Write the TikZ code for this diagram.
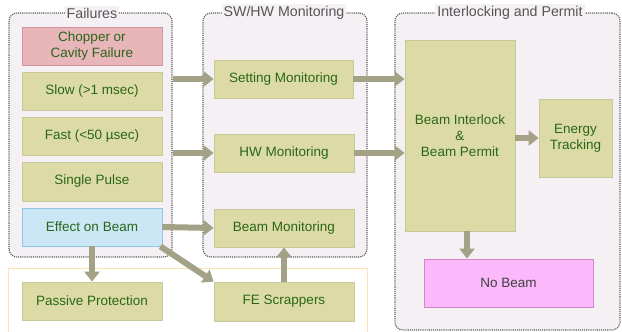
\documentclass[tikz,border=0pt]{standalone}
\usepackage{fontspec}
\setmainfont{Liberation Sans}
\usetikzlibrary{arrows.meta}
\definecolor{boxfill}{HTML}{DCDBA6}
\definecolor{boxline}{HTML}{C9C898}
\definecolor{txtgreen}{HTML}{2A661A}
\definecolor{chopfill}{HTML}{E8B5B9}
\definecolor{chopline}{HTML}{D4959A}
\definecolor{efffill}{HTML}{CBE7F6}
\definecolor{effline}{HTML}{8FC6E6}
\definecolor{nbfill}{HTML}{FBB9FB}
\definecolor{nbline}{HTML}{D088C8}
\definecolor{grpfill}{HTML}{F4F0F4}
\definecolor{grpline}{HTML}{5A5A5A}
\definecolor{arrcol}{HTML}{A3A286}
\definecolor{orangeln}{HTML}{FFE2AE}
\definecolor{titlecol}{HTML}{555555}
\tikzset{
  fbox/.style={draw=boxline, fill=boxfill, line width=0.8pt, inner sep=0pt,
    text=txtgreen, font=\fontsize{13.5}{16}\selectfont, align=center},
  grp/.style={draw=grpline, fill=grpfill, densely dotted, line width=1.1pt,
    rounded corners=8pt, inner sep=0pt},
  gtitle/.style={fill=grpfill, text=titlecol, inner sep=2pt,
    font=\fontsize{14.2}{16}\selectfont},
  arr/.style={draw=arrcol, line width=6pt,
    -{Triangle[length=10pt,width=15pt]}}
}
\begin{document}
\begin{tikzpicture}[x=1pt,y=-1pt]
\useasboundingbox (0,0) rectangle (622,332);
% orange outline
\draw[orangeln, line width=1pt] (8,334) -- (8,268) -- (367,268) -- (367,334);
% groups
\node[grp, minimum width=163pt, minimum height=244pt] (g1) at (90.5,135) {};
\node[grp, minimum width=164pt, minimum height=244pt] (g2) at (285,135) {};
\node[grp, minimum width=225pt, minimum height=317pt] (g3) at (507.5,171.5) {};
\node[gtitle] (t1) at (92,13) {Failures};
\node[gtitle] (t2) at (284,13) {SW/HW Monitoring};
\node[gtitle] (t3) at (510,13) {Interlocking and Permit};
% boxes
\node[fbox, fill=chopfill, draw=chopline, minimum width=140pt, minimum height=38pt] (chop) at (92,46) {Chopper or\\Cavity Failure};
\node[fbox, minimum width=140pt, minimum height=38pt] (slow) at (92,91) {Slow (>1 msec)};
\node[fbox, minimum width=140pt, minimum height=38pt] (fast) at (92,136) {Fast (<50 µsec)};
\node[fbox, minimum width=140pt, minimum height=39pt] (single) at (92,181.5) {Single Pulse};
\node[fbox, fill=efffill, draw=effline, minimum width=140pt, minimum height=38pt] (effect) at (92,227) {Effect on Beam};
\node[fbox, minimum width=140pt, minimum height=38pt] (passive) at (92,301) {Passive Protection};
\node[fbox, minimum width=140pt, minimum height=39pt] (fe) at (284,301.5) {FE Scrappers};
\node[fbox, minimum width=140pt, minimum height=38pt] (bmon) at (284,228) {Beam Monitoring};
\node[fbox, minimum width=139pt, minimum height=38pt] (setmon) at (283.5,79) {Setting Monitoring};
\node[fbox, minimum width=140pt, minimum height=38pt] (hwmon) at (284,153) {HW Monitoring};
\node[fbox, minimum width=110pt, minimum height=191pt] (bil) at (460,135.5) {Beam Interlock\\\&\\Beam Permit};
\node[fbox, minimum width=73pt, minimum height=78pt] (energy) at (575.5,138) {Energy\\Tracking};
\node[fbox, fill=nbfill, draw=nbline, text=black!75, minimum width=169pt, minimum height=48pt] (nobeam) at (508.5,283) {No Beam};
% arrows
\draw[arr] (g1.east |- setmon.west) -- (setmon.west);
\draw[arr] (g1.east |- hwmon.west) -- (hwmon.west);
\draw[arr] (effect.east) -- (bmon.west);
\draw[arr] ([xshift=-2pt]effect.south east) -- (fe.north west);
\draw[arr] (effect.south) -- (passive.north);
\draw[arr] (fe.north) -- (bmon.south);
\draw[arr] (setmon.east) -- (bil.west |- setmon.east);
\draw[arr] (hwmon.east) -- (bil.west |- hwmon.east);
\draw[arr] (bil.east |- energy.west) -- (energy.west);
\draw[arr] ([xshift=7pt]bil.south) -- ([xshift=7pt]bil.south |- nobeam.north);
\end{tikzpicture}
\end{document}
